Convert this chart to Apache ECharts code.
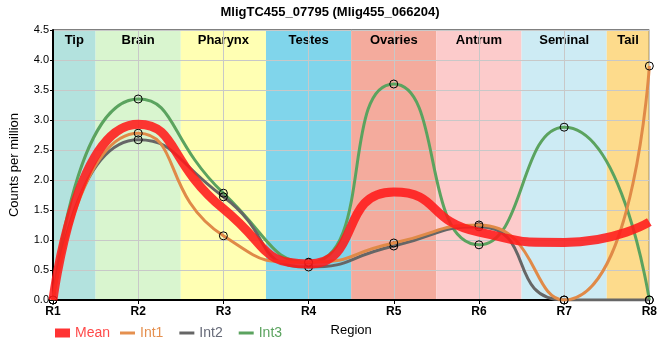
<!DOCTYPE html>
<html><head><meta charset="utf-8">
<script src="https://cdn.jsdelivr.net/npm/echarts@6/dist/echarts.min.js"></script>
<style>html,body{margin:0;padding:0;background:#fff}#c{width:660px;height:360px}</style>
</head><body><div id="c"></div>
<script>
const regions = [1,2,3,4,5,6,7,8];
const tissues = ['Tip','Brain','Pharynx','Testes','Ovaries','Antrum','Seminal','Tail'];
const tissueStart = [1,1.5,2.5,3.5,4.5,5.5,6.5,7.5];
const tissueEnd = [1.5,2.5,3.5,4.5,5.5,6.5,7.5,8];
const tissueColors = ['#b3e2de','#d9f5cf','#ffffb3','#80d5eb','#f4ab9d','#fccbcb','#cdebf4','#fddb8c'];
const meanVals = [0, 2.93, 1.52, 0.60, 1.80, 1.13, 0.96, 1.30];
const int1 = [0, 2.78, 1.07, 0.63, 0.95, 1.25, 0, 3.9];
const int2 = [0, 2.67, 1.72, 0.55, 0.90, 1.22, 0, 0];
const int3 = [0, 3.35, 1.78, 0.62, 3.60, 0.92, 2.88, 0];
const yTicks = [0,0.5,1,1.5,2,2.5,3,3.5,4,4.5];

const font = 'Liberation Sans, Arial, sans-serif';
const pairs = a => regions.map((r,i)=>[r,a[i]]);
const chart = echarts.init(document.getElementById('c'));
const bands = tissues.map((t,i)=>[
  {name:t, xAxis:tissueStart[i], itemStyle:{color:tissueColors[i]}},
  {xAxis:tissueEnd[i]}
]);
const SM = 0.6;
const intSeries = (name, data, color, z) => ({
  name, type:'line', data:pairs(data), smooth:SM, z,
  lineStyle:{color, width:3}, itemStyle:{color:'transparent', borderColor:'#000', borderWidth:1},
  symbol:'circle', symbolSize:8, showSymbol:true, color
});
const legIcon = c => ({color:c, borderWidth:0, borderColor:c, opacity:1});
chart.setOption({
  animation:false,
  title:{text:'MligTC455_07795 (Mlig455_066204)', left:'center', top:1,
    textStyle:{fontFamily:font, fontSize:13, fontWeight:'bold', color:'#000'}},
  grid:{left:50, right:10, top:30, bottom:60, show:true, borderColor:'#000', borderWidth:1, backgroundColor:'transparent', z:2},
  legend:[{
    left:50, top:321, itemWidth:15, itemHeight:9, itemGap:10,
    data:[{name:'Mean', icon:'rect', itemStyle:legIcon('#ff3333'), textStyle:{color:'#ff4a4a'}}],
    textStyle:{fontFamily:font, fontSize:14}
  },{
    left:115, top:321, itemWidth:15, itemHeight:3, itemGap:16,
    data:[{name:'Int1', icon:'rect', itemStyle:legIcon('#e5904f'), textStyle:{color:'#e5904f'}},
          {name:'Int2', icon:'rect', itemStyle:legIcon('#666666'), textStyle:{color:'#666a78'}},
          {name:'Int3', icon:'rect', itemStyle:legIcon('#5ba35f'), textStyle:{color:'#5ba35f'}}],
    textStyle:{fontFamily:font, fontSize:14}
  }],
  xAxis:{type:'value', min:1, max:8, interval:1, z:2,
    name:'Region', nameLocation:'middle', nameGap:24,
    nameTextStyle:{fontFamily:font, fontSize:13, color:'#000'},
    axisLine:{lineStyle:{color:'#000', width:2}},
    axisTick:{show:true, length:4, lineStyle:{color:'#000'}},
    axisLabel:{formatter:v=>'R'+v, fontFamily:font, fontSize:12, fontWeight:'bold', color:'#000', margin:6},
    splitLine:{show:true, lineStyle:{color:'#c8c8c8', width:1}}},
  yAxis:{type:'value', min:0, max:4.5, interval:0.5, z:2,
    name:'Counts per million', nameLocation:'middle', nameGap:32,
    nameTextStyle:{fontFamily:font, fontSize:13, color:'#000'},
    axisLine:{show:true, lineStyle:{color:'#000', width:2}},
    axisTick:{show:true, length:3, lineStyle:{color:'#000'}},
    axisLabel:{formatter:v=>v.toFixed(1), fontFamily:font, fontSize:11, color:'#000', margin:4},
    splitLine:{show:true, lineStyle:{color:'#c8c8c8', width:1}}},
  series:[
    {name:'bands', type:'line', data:[], z:0, silent:true,
      markArea:{silent:true, z:0,
        label:{show:true, position:'insideTop', distance:4, fontFamily:font, fontSize:13, fontWeight:'bold', color:'#000'},
        data:bands}},
    intSeries('Int3', int3, '#5ba35f', 3),
    intSeries('Int2', int2, '#666666', 3),
    intSeries('Int1', int1, '#e08a48', 4),
    {name:'Mean', type:'line', data:pairs(meanVals), smooth:SM, showSymbol:false, symbol:'none', z:5,
      lineStyle:{color:'#ff1a1a', width:9, opacity:0.88}, color:'#ff3333'}
  ]
});
</script></body></html>
